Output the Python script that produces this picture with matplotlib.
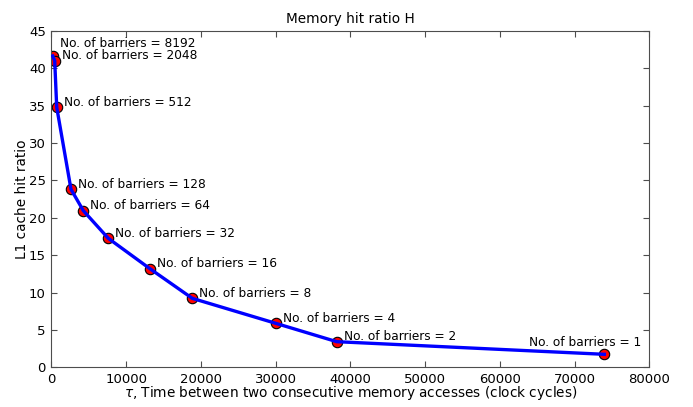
import matplotlib
matplotlib.use('Agg')
import matplotlib.pyplot as plt

# number of barriers and measured points
barriers = [8192, 2048, 512, 128, 64, 32, 16, 8, 4, 2, 1]
tau = [160, 430, 700, 2610, 4260, 7600, 13180, 18840, 30000, 38170, 73980]
hit_ratio = [41.66, 41.03, 34.79, 23.82, 20.96, 17.26, 13.19, 9.23, 5.89, 3.43, 1.74]

# label offsets in pixels (dx, dy, alignment)
label_offsets = [(7, 12, 'left')] + [(7, 5, 'left')] * 9 + [(37, 12, 'right')]

fig = plt.figure(figsize=(6.93, 4.07), dpi=100)
ax = fig.add_axes([0.0743, 0.0975, 0.8627, 0.8263])

ax.plot(tau, hit_ratio, 'o', markerfacecolor='red', markeredgecolor='black',
        markeredgewidth=0.8, markersize=7.5, zorder=2)
ax.plot(tau, hit_ratio, '-', color='blue', linewidth=2.4, zorder=3)

for b, x, y, (dx, dy, ha) in zip(barriers, tau, hit_ratio, label_offsets):
    ax.annotate('No. of barriers = %d' % b, xy=(x, y), xytext=(dx, dy),
                textcoords='offset pixels', ha=ha, va='center', fontsize=8.7)

ax.set_xlim(0, 80000)
ax.set_ylim(0, 45)
ax.set_xticks(range(0, 80001, 10000))
ax.set_yticks(range(0, 46, 5))
ax.tick_params(direction='in', top=True, right=True, labelsize=9.5, length=4,
               color='0.3', pad=4)
for s in ax.spines.values():
    s.set_color('0.3')

ax.set_title('Memory hit ratio H', fontsize=9.8)
ax.set_xlabel(r'$\tau$, Time between two consecutive memory accesses (clock cycles)',
              fontsize=9.8, labelpad=-1)
ax.set_ylabel('L1 cache hit ratio', fontsize=9.8, labelpad=0)

fig.savefig('out.png', dpi=100)
